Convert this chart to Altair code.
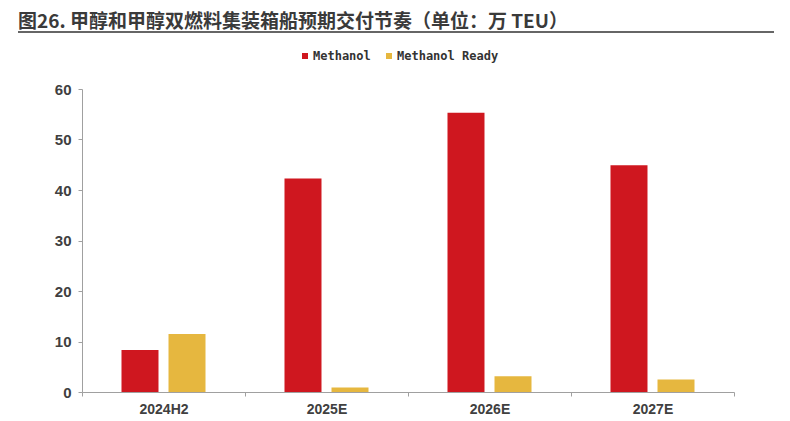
import altair as alt
import pandas as pd

categories = ["2024H2", "2025E", "2026E", "2027E"]
series = ["Methanol", "Methanol Ready"]
methanol = [8.3, 42.3, 55.3, 44.9]
methanol_ready = [11.5, 0.9, 3.1, 2.5]
colors = ["#CF171F", "#E6B73F"]
title_text = "图26. 甲醇和甲醇双燃料集装箱船预期交付节奏（单位：万 TEU）"

rows = []
for c, m, r in zip(categories, methanol, methanol_ready):
    rows.append({"cat": c, "series": series[0], "value": m})
    rows.append({"cat": c, "series": series[1], "value": r})
df = pd.DataFrame(rows)

bars = alt.Chart(df).mark_bar().encode(
    x=alt.X("cat:N", sort=categories, title=None,
            scale=alt.Scale(paddingInner=0, paddingOuter=0),
            axis=alt.Axis(labelAngle=0, tickBand="extent", labelFont="Liberation Sans",
                          labelFontSize=14, labelFontWeight="bold", labelColor="#404040",
                          domainColor="#A0A0A0", tickColor="#A0A0A0", tickSize=4,
                          labelPadding=6, grid=False)),
    xOffset=alt.XOffset("series:N", sort=series,
                        scale=alt.Scale(paddingInner=0.213, paddingOuter=0.84)),
    y=alt.Y("value:Q", title=None,
            scale=alt.Scale(domain=[0, 60]),
            axis=alt.Axis(values=[0, 10, 20, 30, 40, 50, 60], labelFont="Liberation Sans",
                          labelFontSize=15, labelFontWeight="bold", labelColor="#404040",
                          domainColor="#A0A0A0", tickColor="#A0A0A0", tickSize=4,
                          labelPadding=7, grid=False)),
    color=alt.Color("series:N", sort=series,
                    scale=alt.Scale(domain=series, range=colors),
                    legend=alt.Legend(title=None, orient="none", direction="horizontal",
                                      legendX=217, legendY=-39, symbolType="square",
                                      symbolSize=36, symbolStrokeWidth=0,
                                      labelFont="DejaVu Sans Mono", labelFontSize=12,
                                      labelFontWeight="bold",
                                      labelColor="#333333", labelOffset=2,
                                      columnPadding=12)),
)

title_df = pd.DataFrame({"t": [title_text]})
title = alt.Chart(title_df).mark_text(
    align="left", baseline="alphabetic", font="Noto Sans CJK SC",
    fontSize=19, fontWeight="bold", color="#3a3a3a"
).encode(text="t:N", x=alt.value(-64), y=alt.value(-61))

rule = alt.Chart(title_df).mark_rule(color="#666666", strokeWidth=2).encode(
    x=alt.value(-64), x2=alt.value(696), y=alt.value(-57)
)

chart = alt.layer(bars, title, rule).properties(
    width=652, height=303,
    background="white",
    autosize=alt.AutoSizeParams(type="none"),
    padding={"left": 74, "top": 81, "right": 40, "bottom": 30},
).configure_view(strokeWidth=0, stroke=None)

chart.save("out.html", embed_options={"renderer": "svg", "actions": False})
